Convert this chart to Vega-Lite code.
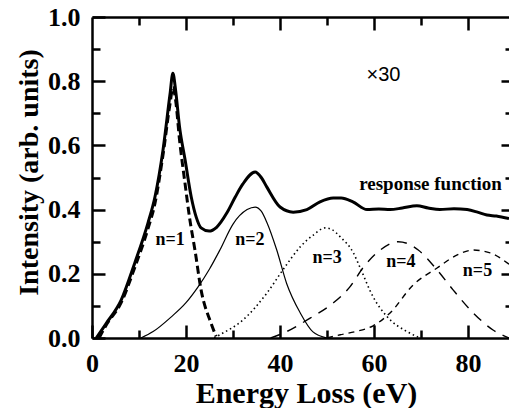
{
  "$schema": "https://vega.github.io/schema/vega-lite/v6.json",
  "width": 417,
  "height": 321,
  "autosize": "none",
  "padding": {"left": 92, "top": 17, "right": 0, "bottom": 70},
  "background": "white",
  "config": {"view": {"stroke": null}, "axis": {"domainColor": "black", "tickColor": "black", "domainWidth": 2.5, "tickWidth": 2.5, "grid": false, "labelColor": "black", "titleColor": "black"}},
  "datasets": {
    "curves": [
      {"x": 0.9, "y": 0, "c": "R"}, {"x": 3, "y": 0.045, "c": "R"}, {"x": 6.2, "y": 0.118, "c": "R"}, {"x": 9.1, "y": 0.234, "c": "R"}, {"x": 11.9, "y": 0.358, "c": "R"}, {"x": 13.4, "y": 0.44, "c": "R"}, {"x": 15.1, "y": 0.585, "c": "R"}, {"x": 16.6, "y": 0.76, "c": "R"}, {"x": 17.2, "y": 0.825, "c": "R"}, {"x": 17.8, "y": 0.77, "c": "R"}, {"x": 18.6, "y": 0.66, "c": "R"}, {"x": 19.8, "y": 0.555, "c": "R"}, {"x": 21.1, "y": 0.44, "c": "R"}, {"x": 22.2, "y": 0.375, "c": "R"}, {"x": 23.2, "y": 0.343, "c": "R"}, {"x": 24.9, "y": 0.333, "c": "R"}, {"x": 26.5, "y": 0.345, "c": "R"}, {"x": 28.7, "y": 0.39, "c": "R"}, {"x": 30.5, "y": 0.44, "c": "R"}, {"x": 32.1, "y": 0.48, "c": "R"}, {"x": 34.7, "y": 0.517, "c": "R"}, {"x": 36, "y": 0.5, "c": "R"}, {"x": 37.2, "y": 0.47, "c": "R"}, {"x": 40, "y": 0.408, "c": "R"}, {"x": 42.8, "y": 0.392, "c": "R"}, {"x": 45.7, "y": 0.4, "c": "R"}, {"x": 48.5, "y": 0.424, "c": "R"}, {"x": 51.3, "y": 0.436, "c": "R"}, {"x": 53, "y": 0.436, "c": "R"}, {"x": 55.5, "y": 0.424, "c": "R"}, {"x": 58.5, "y": 0.4, "c": "R"}, {"x": 61, "y": 0.402, "c": "R"}, {"x": 63.4, "y": 0.4, "c": "R"}, {"x": 66, "y": 0.405, "c": "R"}, {"x": 69.1, "y": 0.412, "c": "R"}, {"x": 71.5, "y": 0.405, "c": "R"}, {"x": 74, "y": 0.4, "c": "R"}, {"x": 77, "y": 0.403, "c": "R"}, {"x": 79.8, "y": 0.4, "c": "R"}, {"x": 82, "y": 0.392, "c": "R"}, {"x": 84, "y": 0.383, "c": "R"}, {"x": 86, "y": 0.38, "c": "R"}, {"x": 88.7, "y": 0.372, "c": "R"},
      {"x": 1.5, "y": 0, "c": "N1"}, {"x": 3, "y": 0.04, "c": "N1"}, {"x": 6.2, "y": 0.11, "c": "N1"}, {"x": 9.1, "y": 0.22, "c": "N1"}, {"x": 11.9, "y": 0.34, "c": "N1"}, {"x": 13.4, "y": 0.42, "c": "N1"}, {"x": 15.1, "y": 0.57, "c": "N1"}, {"x": 16.6, "y": 0.73, "c": "N1"}, {"x": 17.2, "y": 0.78, "c": "N1"}, {"x": 17.8, "y": 0.74, "c": "N1"}, {"x": 18.6, "y": 0.62, "c": "N1"}, {"x": 19.8, "y": 0.48, "c": "N1"}, {"x": 20.8, "y": 0.37, "c": "N1"}, {"x": 21.9, "y": 0.274, "c": "N1"}, {"x": 23.2, "y": 0.15, "c": "N1"}, {"x": 25.3, "y": 0.047, "c": "N1"}, {"x": 26.4, "y": 0.005, "c": "N1"},
      {"x": 10.4, "y": 0, "c": "N2"}, {"x": 13, "y": 0.02, "c": "N2"}, {"x": 16.8, "y": 0.065, "c": "N2"}, {"x": 20, "y": 0.11, "c": "N2"}, {"x": 22.6, "y": 0.16, "c": "N2"}, {"x": 25, "y": 0.215, "c": "N2"}, {"x": 27.2, "y": 0.274, "c": "N2"}, {"x": 30, "y": 0.355, "c": "N2"}, {"x": 33, "y": 0.4, "c": "N2"}, {"x": 34.7, "y": 0.408, "c": "N2"}, {"x": 36, "y": 0.395, "c": "N2"}, {"x": 37.2, "y": 0.36, "c": "N2"}, {"x": 39.3, "y": 0.274, "c": "N2"}, {"x": 41.4, "y": 0.17, "c": "N2"}, {"x": 44.3, "y": 0.078, "c": "N2"}, {"x": 47, "y": 0.019, "c": "N2"}, {"x": 50, "y": 0, "c": "N2"},
      {"x": 26, "y": 0, "c": "N3"}, {"x": 27.2, "y": 0.01, "c": "N3"}, {"x": 32.1, "y": 0.056, "c": "N3"}, {"x": 37.2, "y": 0.14, "c": "N3"}, {"x": 40.6, "y": 0.212, "c": "N3"}, {"x": 44.3, "y": 0.284, "c": "N3"}, {"x": 47, "y": 0.32, "c": "N3"}, {"x": 49.6, "y": 0.343, "c": "N3"}, {"x": 51, "y": 0.338, "c": "N3"}, {"x": 52.8, "y": 0.315, "c": "N3"}, {"x": 55.6, "y": 0.265, "c": "N3"}, {"x": 57, "y": 0.22, "c": "N3"}, {"x": 59.8, "y": 0.128, "c": "N3"}, {"x": 62.8, "y": 0.066, "c": "N3"}, {"x": 67, "y": 0.02, "c": "N3"}, {"x": 69.8, "y": 0, "c": "N3"},
      {"x": 38, "y": 0, "c": "N4"}, {"x": 41.4, "y": 0.02, "c": "N4"}, {"x": 46.4, "y": 0.062, "c": "N4"}, {"x": 51.3, "y": 0.109, "c": "N4"}, {"x": 54.9, "y": 0.16, "c": "N4"}, {"x": 57.7, "y": 0.22, "c": "N4"}, {"x": 61.3, "y": 0.274, "c": "N4"}, {"x": 65.1, "y": 0.3, "c": "N4"}, {"x": 67, "y": 0.295, "c": "N4"}, {"x": 69.4, "y": 0.274, "c": "N4"}, {"x": 73.4, "y": 0.212, "c": "N4"}, {"x": 76.8, "y": 0.15, "c": "N4"}, {"x": 81.1, "y": 0.078, "c": "N4"}, {"x": 85.3, "y": 0.025, "c": "N4"}, {"x": 88.7, "y": 0, "c": "N4"},
      {"x": 50, "y": 0, "c": "N5"}, {"x": 52.8, "y": 0.01, "c": "N5"}, {"x": 56, "y": 0.02, "c": "N5"}, {"x": 59.8, "y": 0.038, "c": "N5"}, {"x": 63.4, "y": 0.078, "c": "N5"}, {"x": 68.3, "y": 0.165, "c": "N5"}, {"x": 73.4, "y": 0.218, "c": "N5"}, {"x": 77.7, "y": 0.259, "c": "N5"}, {"x": 81.1, "y": 0.274, "c": "N5"}, {"x": 84.7, "y": 0.265, "c": "N5"}, {"x": 88.7, "y": 0.23, "c": "N5"}
    ],
    "labels": [
      {"x": 16.6, "y": 0.305, "t": "n=1", "k": "n"},
      {"x": 33.6, "y": 0.305, "t": "n=2", "k": "n"},
      {"x": 50, "y": 0.25, "t": "n=3", "k": "n"},
      {"x": 65.7, "y": 0.237, "t": "n=4", "k": "n"},
      {"x": 82, "y": 0.21, "t": "n=5", "k": "n"},
      {"x": 72, "y": 0.48, "t": "response function", "k": "r"},
      {"x": 62, "y": 0.82, "t": "×30", "k": "m"}
    ]
  },
  "resolve": {"axis": {"x": "independent", "y": "independent"}},
  "layer": [
    {
      "data": {"name": "curves"},
      "transform": [{"filter": "datum.c == 'R'"}],
      "mark": {"type": "line", "color": "black", "clip": true, "strokeWidth": 3, "interpolate": "monotone"},
      "encoding": {
        "x": {"field": "x", "type": "quantitative", "scale": {"domain": [0, 88.7], "nice": false, "zero": false},
          "axis": {"orient": "bottom", "values": [0, 20, 40, 60, 80], "format": "d", "tickSize": -13, "labelPadding": 25, "labelFont": "Liberation Serif", "labelFontWeight": "bold", "labelFontSize": 26, "title": "Energy Loss (eV)", "titleFont": "Liberation Serif", "titleFontWeight": "bold", "titleFontSize": 30, "titleX": 214, "titleY": 64, "titleBaseline": "alphabetic", "titleAlign": "center", "labelFlush": false}},
        "y": {"field": "y", "type": "quantitative", "scale": {"domain": [0, 1], "nice": false},
          "axis": {"orient": "left", "values": [0, 0.2, 0.4, 0.6, 0.8, 1.0], "format": ".1f", "tickSize": -13, "labelPadding": 25, "labelFont": "Liberation Serif", "labelFontWeight": "bold", "labelFontSize": 26, "title": "Intensity (arb. units)", "titleFont": "Liberation Serif", "titleFontWeight": "bold", "titleFontSize": 28, "titleX": -55, "titleY": 155, "titleBaseline": "alphabetic", "titleAlign": "center", "titleAngle": -90, "labelFlush": false}}
      }
    },
    {
      "data": {"name": "curves"},
      "transform": [{"filter": "datum.c == 'N1'"}],
      "mark": {"type": "line", "color": "black", "clip": true, "strokeWidth": 3, "strokeDash": [8, 4], "interpolate": "monotone"},
      "encoding": {
        "x": {"field": "x", "type": "quantitative", "axis": {"orient": "bottom", "values": [10, 30, 50, 70], "tickSize": -8, "labels": false, "domain": false, "title": null}},
        "y": {"field": "y", "type": "quantitative", "axis": {"orient": "left", "values": [0.1, 0.3, 0.5, 0.7, 0.9], "tickSize": -8, "labels": false, "domain": false, "title": null}}
      }
    },
    {
      "data": {"name": "curves"},
      "transform": [{"filter": "datum.c == 'N2'"}],
      "mark": {"type": "line", "color": "black", "clip": true, "strokeWidth": 1.2, "interpolate": "monotone"},
      "encoding": {
        "x": {"field": "x", "type": "quantitative", "axis": {"orient": "top", "values": [20, 40, 60, 80], "tickSize": -13, "labels": false, "domain": true, "title": null}},
        "y": {"field": "y", "type": "quantitative", "axis": {"orient": "right", "values": [0.2, 0.4, 0.6, 0.8], "tickSize": -8, "labels": false, "domain": false, "title": null}}
      }
    },
    {
      "data": {"name": "curves"},
      "transform": [{"filter": "datum.c == 'N3'"}],
      "mark": {"type": "line", "color": "black", "clip": true, "strokeWidth": 1.6, "strokeDash": [1.5, 3], "interpolate": "monotone"},
      "encoding": {
        "x": {"field": "x", "type": "quantitative", "axis": {"orient": "top", "values": [10, 30, 50, 70], "tickSize": -8, "labels": false, "domain": false, "title": null}},
        "y": {"field": "y", "type": "quantitative", "axis": {"orient": "right", "values": [0.1, 0.3, 0.5, 0.7, 0.9], "tickSize": -4, "labels": false, "domain": false, "title": null}}
      }
    },
    {
      "data": {"name": "curves"},
      "transform": [{"filter": "datum.c == 'N4'"}],
      "mark": {"type": "line", "color": "black", "clip": true, "strokeWidth": 1.4, "strokeDash": [10, 8], "interpolate": "monotone"},
      "encoding": {
        "x": {"field": "x", "type": "quantitative", "axis": null},
        "y": {"field": "y", "type": "quantitative", "axis": null}
      }
    },
    {
      "data": {"name": "curves"},
      "transform": [{"filter": "datum.c == 'N5'"}],
      "mark": {"type": "line", "color": "black", "clip": true, "strokeWidth": 1.4, "strokeDash": [6, 5], "interpolate": "monotone"},
      "encoding": {
        "x": {"field": "x", "type": "quantitative", "axis": null},
        "y": {"field": "y", "type": "quantitative", "axis": null}
      }
    },
    {
      "data": {"name": "labels"},
      "transform": [{"filter": "datum.k == 'n'"}],
      "mark": {"type": "text", "font": "Liberation Serif", "fontWeight": "bold", "fontSize": 18, "color": "black", "baseline": "middle", "align": "center"},
      "encoding": {
        "x": {"field": "x", "type": "quantitative", "axis": null},
        "y": {"field": "y", "type": "quantitative", "axis": null},
        "text": {"field": "t"}
      }
    },
    {
      "data": {"name": "labels"},
      "transform": [{"filter": "datum.k == 'r'"}],
      "mark": {"type": "text", "font": "Liberation Serif", "fontWeight": "bold", "fontSize": 19, "color": "black", "baseline": "middle", "align": "center"},
      "encoding": {
        "x": {"field": "x", "type": "quantitative", "axis": null},
        "y": {"field": "y", "type": "quantitative", "axis": null},
        "text": {"field": "t"}
      }
    },
    {
      "data": {"name": "labels"},
      "transform": [{"filter": "datum.k == 'm'"}],
      "mark": {"type": "text", "font": "Liberation Sans", "fontSize": 20, "color": "black", "baseline": "middle", "align": "center"},
      "encoding": {
        "x": {"field": "x", "type": "quantitative", "axis": null},
        "y": {"field": "y", "type": "quantitative", "axis": null},
        "text": {"field": "t"}
      }
    }
  ]
}
